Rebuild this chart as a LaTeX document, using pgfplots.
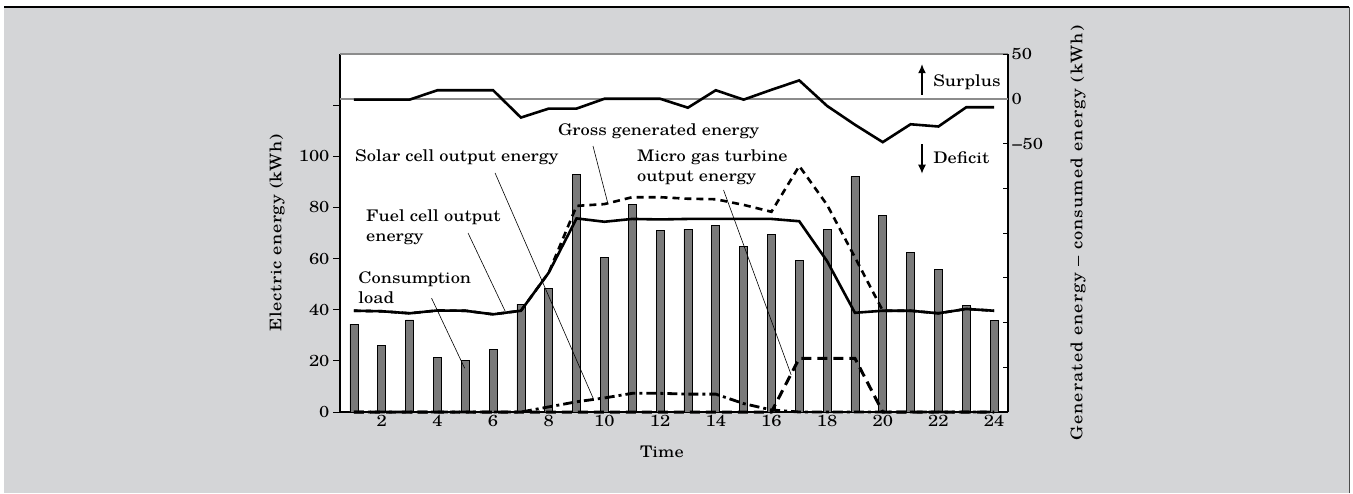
\documentclass[border=0pt]{standalone}
\usepackage{fontspec}
\setmainfont{TeX Gyre Schola}[FakeStretch=1.15]
\usepackage{pgfplots}
\pgfplotsset{compat=1.18}
\usetikzlibrary{arrows.meta}
\definecolor{bg}{HTML}{D4D5D7}
\definecolor{bargray}{HTML}{7A7A7A}
\definecolor{zgray}{HTML}{8C8C8C}
\begin{document}
\begin{tikzpicture}[font=\fontsize{16}{20}\selectfont]
\fill[white] (0,0) rectangle (1353pt,493pt);
\fill[bg] (4pt,0) rectangle (1349pt,486pt);
\draw[black, line width=2pt] (4pt,486pt) -- (1349pt,486pt);
\draw[black!70, line width=1pt] (1349pt,0) -- (1349pt,486pt);
\begin{axis}[
  at={(340pt,81pt)}, anchor=south west,
  width=668pt, height=358pt, scale only axis,
  xmin=0.5, xmax=24.5, ymin=0, ymax=140,
  axis x line*=bottom, axis y line*=left,
  axis line style={line width=2.5pt},
  axis background/.style={fill=white},
  clip=false,
  xtick={1,...,24},
  xticklabels={,2,,4,,6,,8,,10,,12,,14,,16,,18,,20,,22,,24},
  xtick align=inside,
  ytick={0,20,...,120},
  yticklabels={0,20,40,60,80,100,},
  ytick align=outside,
  major tick length=7pt,
  tick style={black, line width=1pt},
  /pgf/number format/assume math mode=true,
  ylabel={\addfontfeature{LetterSpace=4}Electric energy (kWh)},
  xlabel={Time},
  every axis y label/.style={at={(axis description cs:-0.094,0.5)}, anchor=center, rotate=90},
  every axis x label/.style={at={(axis description cs:0.482,-0.111)}, anchor=center},
]
\draw[zgray, line width=1.5pt] (rel axis cs:0,1) -- (rel axis cs:1,1);
\addplot[ybar, bar width=8pt, fill=bargray, draw=black, line width=0.8pt] coordinates {
(1,34.4) (2,26) (3,36) (4,21.4) (5,20.3) (6,24.6) (7,42.2) (8,48.4)
(9,93) (10,60.3) (11,81) (12,71) (13,71.5) (14,73) (15,64.6) (16,69.4)
(17,59.3) (18,71.5) (19,92) (20,77) (21,62.5) (22,55.7) (23,41.6) (24,35.8)};
% solar cell output energy
\addplot[black, line width=2.8pt, dash pattern=on 10pt off 4pt on 3pt off 4pt] coordinates {
(1,0) (2,0) (3,0) (4,0) (5,0) (6,0) (7,0) (8,2) (9,4) (10,5.5) (11,7.3) (12,7.3)
(13,7) (14,7) (15,3.3) (16,0.8) (17,0) (18,0) (19,0) (20,0) (21,0) (22,0) (23,0) (24,0)};
% micro gas turbine output energy
\addplot[black, line width=3pt, dash pattern=on 10pt off 6pt] coordinates {
(1,0) (2,0) (3,0) (4,0) (5,0) (6,0) (7,0) (8,0) (9,0) (10,0) (11,0) (12,0)
(13,0) (14,0) (15,0) (16,0) (17,21) (18,21) (19,21) (20,0) (21,0) (22,0) (23,0) (24,0)};
% gross generated energy
\addplot[black, line width=2.6pt, dash pattern=on 7pt off 5pt] coordinates {
(1,39.6) (2,39.4) (3,38.6) (4,39.7) (5,39.6) (6,38.2) (7,39.6) (8,54.5)
(9,80.6) (10,81.3) (11,84) (12,84) (13,83.4) (14,83.2) (15,81) (16,78.3)
(17,96.2) (18,81) (19,60.5) (20,39.6) (21,39.6) (22,38.6) (23,40.3) (24,39.6)};
% fuel cell output energy
\addplot[black, line width=2.6pt] coordinates {
(1,39.6) (2,39.4) (3,38.6) (4,39.7) (5,39.6) (6,38.2) (7,39.6) (8,54.5)
(9,75.7) (10,74.4) (11,75.5) (12,75.3) (13,75.5) (14,75.5) (15,75.5) (16,75.5)
(17,74.6) (18,59) (19,38.8) (20,39.6) (21,39.6) (22,38.6) (23,40.3) (24,39.6)};
% annotations
\node[anchor=west, inner sep=0pt] at (axis cs:1.04,99.7) {Solar cell output energy};
\draw[line width=0.6pt] (axis cs:6.07,93.5) -- (axis cs:9.59,5.5);
\node[anchor=west, inner sep=0pt] at (axis cs:8.33,109.9) {Gross generated energy};
\draw[line width=0.6pt] (axis cs:9.59,104.0) -- (axis cs:10.13,81.3);
\node[anchor=west, inner sep=0pt, align=left] at (axis cs:1.43,72.2) {Fuel cell output\\energy};
\draw[line width=0.6pt] (axis cs:5.1,70.0) -- (axis cs:6.43,39.5);
\node[anchor=west, inner sep=0pt, align=left] at (axis cs:1.15,48.5) {Consumption\\load};
\draw[line width=0.6pt] (axis cs:3.79,44.5) -- (axis cs:4.98,17.1);
\node[anchor=west, inner sep=0pt, align=left] at (axis cs:11.17,95.6) {Micro gas turbine\\output energy};
\draw[line width=0.6pt] (axis cs:14.28,86.8) -- (axis cs:16.71,14.5);
\draw[-{Latex[length=9pt,width=8pt]}, line width=1.2pt] (axis cs:21.41,124.0) -- (axis cs:21.41,136);
\node[anchor=west, inner sep=0pt] at (axis cs:21.81,129.1) {Surplus};
\draw[-{Latex[length=9pt,width=8pt]}, line width=1.2pt] (axis cs:21.41,104.8) -- (axis cs:21.41,93.2);
\node[anchor=west, inner sep=0pt] at (axis cs:21.81,99.3) {Deficit};
\end{axis}
\begin{axis}[
  at={(340pt,81pt)}, anchor=south west,
  width=668pt, height=358pt, scale only axis,
  xmin=0.5, xmax=24.5, ymin=-350, ymax=50,
  axis x line=none, axis y line*=right,
  axis line style={line width=2.5pt},
  clip=false,
  ytick={-350,-300,...,50},
  yticklabels={,,,,,,−50,0,50},
  ytick align=inside,
  major tick length=5pt,
  tick style={black, line width=1pt},
  ylabel={\addfontfeature{LetterSpace=7}Generated energy – consumed energy (kWh)},
  every axis y label/.style={at={(axis description cs:1.105,0.5)}, anchor=center, rotate=90},
]
\draw[zgray, line width=1.5pt] (axis cs:0.5,0) -- (axis cs:24.5,0);
\addplot[black, line width=2.6pt] coordinates {
(1,-1) (2,-1) (3,-1) (4,9.5) (5,9.5) (6,9.5) (7,-21) (8,-11) (9,-11) (10,0) (11,0) (12,0)
(13,-10) (14,9.5) (15,-1) (16,10) (17,20.5) (18,-8) (19,-29) (20,-48.5) (21,-28.5) (22,-31) (23,-9.5) (24,-9.5)};
\end{axis}
\end{tikzpicture}
\end{document}
